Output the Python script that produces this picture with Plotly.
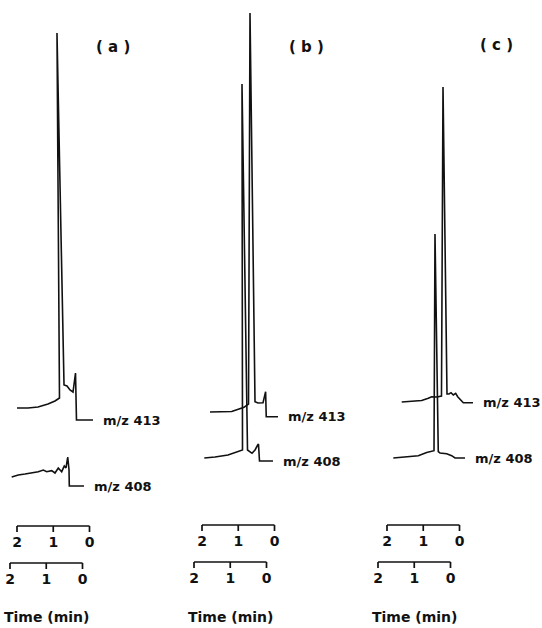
import plotly.graph_objects as go

# ---------------- data (time in min, recorder signal in arbitrary units) ----------------
# panel (a)
T_A413 = [2.000, 1.697, 1.421, 1.145, 0.952, 0.828, 0.897, 0.703, 0.621, 0.538, 0.455, 0.386, 0.359, -0.097]
I_A413 = [0, 0, 1, 4, 7, 10, 375, 23, 22, 18, 16, 35, -12, -12]
T_A408 = [1.953, 1.771, 1.586, 1.401, 1.219, 1.081, 0.988, 0.850, 0.759, 0.668, 0.574, 0.502, 0.455, 0.408, 0.372, 0.364, -0.041]
I_A408 = [0, 2, 3, 4, 5.3, 7, 5.3, 6.3, 4, 9, 5.3, 11, 9, 20, 7, -9, -9]
# panel (b)
T_B413 = [1.779, 1.457, 1.181, 0.999, 0.841, 0.717, 0.676, 0.538, 0.455, 0.317, 0.245, 0.228, -0.097]
I_B413 = [0, 0.5, 0.5, 2.7, 4.7, 8, 399, 10.3, 9, 9.3, 20.3, -4.7, -4.7]
T_B408 = [1.716, 1.421, 1.062, 0.786, 0.662, 0.676, 0.524, 0.400, 0.317, 0.243, 0.221, 0.193, -0.179]
I_B408 = [0, 1, 3, 6.3, 8, 374, 8, 4.7, 8, 13, 14, -3, -3]
# panel (c)
T_C413 = [1.594, 1.319, 1.043, 0.861, 0.767, 0.621, 0.497, 0.455, 0.345, 0.290, 0.234, 0.171, 0.105, 0.050, -0.041, -0.105, -0.372]
I_C413 = [0, 0.5, 1.5, 3.7, 5.3, 5, 6, 315, 8, 8, 9.3, 7, 8.7, 5.3, 2, -0.7, -0.7]
T_C408 = [1.578, 1.255, 0.888, 0.657, 0.519, 0.455, 0.428, 0.337, 0.290, 0.105, -0.033, -0.124, -0.400]
I_C408 = [0, 1, 2.3, 5.6, 6.6, 7.3, 224, 6.3, 5, 4.3, 2.3, 0, 0]

ION_LABELS = ["m/z 413", "m/z 408"]
PANEL_LABELS = ["( a )", "( b )", "( c )"]
TICK_VALUES = [2, 1, 0]
TICK_TEXT = ["2", "1", "0"]
AXIS_TITLE = "Time (min)"

# ---------------- layout constants (pixels on the 542x628 page) ----------------
W, H = 542, 628
PX_PER_MIN = 36.25
INK = "#111111"
FONT = "DejaVu Sans"
TXT = dict(family=FONT, size=13, color=INK, weight="bold")

# (times, signal, label, px of t=2, px of baseline, px of scale bar, px of tick labels)
traces = [
    (T_A413, I_A413, ION_LABELS[0], 17, 408, 526, 543),
    (T_A408, I_A408, ION_LABELS[1], 10, 477, 563, 580),
    (T_B413, I_B413, ION_LABELS[0], 202, 412, 525, 542),
    (T_B408, I_B408, ION_LABELS[1], 194, 458, 562, 579),
    (T_C413, I_C413, ION_LABELS[0], 387, 402, 525, 542),
    (T_C408, I_C408, ION_LABELS[1], 378, 458, 562, 579),
]
panel_centers = [(113, 47), (306, 47), (496, 45)]

fig = go.Figure()
annotations = []
TICK_LEN = 6

for k, (t, sig, lab, left_px, base_px, bar_px, num_px) in enumerate(traces, start=1):
    xa = "x" if k == 1 else f"x{k}"
    ya = "y" if k == 1 else f"y{k}"
    # chromatogram trace
    fig.add_trace(go.Scatter(x=t, y=sig, mode="lines", xaxis=xa, yaxis=ya,
                             line=dict(color=INK, width=1.6), hoverinfo="skip",
                             showlegend=False))
    # time scale bar (bracket with ticks at 2, 1, 0 min)
    yb = base_px - bar_px
    bx, by = [], []
    for v in TICK_VALUES:
        bx += [v, v, None]
        by += [yb, yb - TICK_LEN, None]
    bx += [TICK_VALUES[0], TICK_VALUES[-1]]
    by += [yb, yb]
    fig.add_trace(go.Scatter(x=bx, y=by, mode="lines", xaxis=xa, yaxis=ya,
                             line=dict(color=INK, width=1.7), hoverinfo="skip",
                             showlegend=False))
    fig.add_trace(go.Scatter(x=TICK_VALUES, y=[base_px - num_px] * len(TICK_VALUES),
                             text=TICK_TEXT, mode="text", xaxis=xa, yaxis=ya,
                             textfont=dict(family=FONT, size=14, color=INK, weight="bold"),
                             hoverinfo="skip", showlegend=False))
    # ion label at the end of the trace
    annotations.append(dict(x=t[-1], y=sig[-1], xref=xa, yref=ya, text=lab,
                            showarrow=False, xanchor="left", yanchor="middle",
                            xshift=8, font=TXT))
    # axes: fill the page so that time/signal map onto page pixels
    x_range = [2 + left_px / PX_PER_MIN, 2 - (W - left_px) / PX_PER_MIN]
    y_range = [-(H - base_px), base_px]
    key = "" if k == 1 else str(k)
    fig.update_layout(**{
        f"xaxis{key}": dict(domain=[0, 1], range=x_range, visible=False,
                           anchor=ya, fixedrange=True),
        f"yaxis{key}": dict(domain=[0, 1], range=y_range, visible=False,
                           anchor=xa, fixedrange=True),
    })
    # axis title under each panel, centred on the lower bar's 1-min tick
    if k % 2 == 0:
        annotations.append(dict(x=1, y=1 - 617 / H, xref=xa, yref="paper",
                                text=AXIS_TITLE, showarrow=False,
                                xanchor="center", yanchor="middle",
                                font=dict(family=FONT, size=14, color=INK, weight="bold")))

for lab, (cx, cy) in zip(PANEL_LABELS, panel_centers):
    annotations.append(dict(x=cx / W, y=1 - cy / H, xref="paper", yref="paper",
                            text=lab, showarrow=False,
                            xanchor="center", yanchor="middle",
                            font=dict(family=FONT, size=15, color=INK, weight="bold")))

fig.update_layout(width=W, height=H, margin=dict(l=0, r=0, t=0, b=0),
                  paper_bgcolor="white", plot_bgcolor="rgba(0,0,0,0)",
                  annotations=annotations, showlegend=False)

fig.write_html("out.html", config={"displayModeBar": False, "staticPlot": True},
               post_script="document.body.style.margin='0px';document.body.style.overflow='hidden';")
